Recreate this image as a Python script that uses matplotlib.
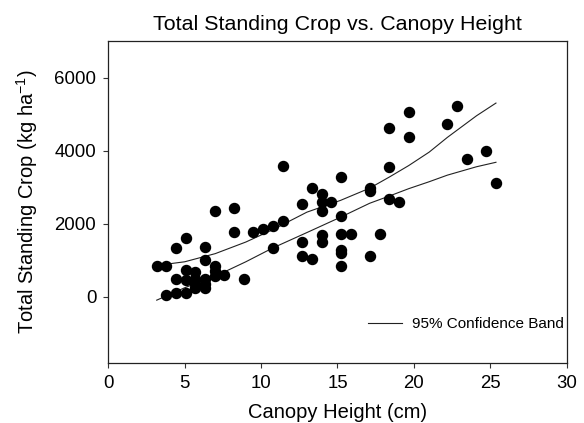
import numpy as np
import matplotlib
matplotlib.use("Agg")
import matplotlib.pyplot as plt

plt.rcParams['font.family'] = ['Liberation Sans', 'DejaVu Sans']
plt.rcParams['mathtext.default'] = 'regular'

# canopy height (cm) and total standing crop (kg/ha)
height = [3.17, 3.80, 3.80, 4.43, 4.43, 4.43, 5.07, 5.07, 5.07, 5.07,
          5.69, 5.69, 5.69, 5.69, 6.33, 6.33, 6.33, 6.33, 6.33, 6.98,
          6.98, 6.98, 6.98, 7.59, 8.25, 8.25, 8.86, 9.49, 10.14, 10.76,
          10.76, 11.41, 11.41, 12.68, 12.68, 12.68, 13.31, 13.31, 13.97, 13.97,
          13.97, 13.97, 13.97, 14.57, 15.23, 15.23, 15.23, 15.23, 15.23, 15.23,
          15.86, 17.13, 17.13, 17.13, 17.78, 18.39, 18.39, 18.39, 19.03, 19.66,
          19.66, 22.19, 22.84, 23.46, 24.72, 25.37]
crop = [856, 845, 65, 1336, 502, 109, 1609, 728, 455, 109,
        682, 502, 365, 245, 1364, 1001, 502, 365, 245, 2337,
        837, 701, 565, 611, 2427, 1764, 483, 1764, 1854, 1928,
        1336, 2064, 3572, 2547, 1500, 1118, 2972, 1028, 2801, 2591,
        2356, 1702, 1500, 2591, 3272, 2209, 1710, 1293, 1200, 837,
        1710, 2972, 2891, 1118, 1710, 4609, 3545, 2664, 2591, 5045,
        4363, 4729, 5228, 3774, 3981, 3120]

# 95% confidence band
band_x = [3.17, 5.0, 7.0, 9.0, 10.76, 13.0, 15.2, 17.1, 18.4, 19.66, 21.0, 22.19, 24.1, 25.37]
upper = [860, 960, 1183, 1500, 1838, 2318, 2640, 2973, 3280, 3592, 3960, 4363, 4955, 5302]
lower = [-90, 250, 565, 960, 1337, 1760, 2180, 2560, 2760, 2960, 3150, 3330, 3560, 3682]

fig = plt.figure(figsize=(5.84, 4.23), dpi=100)
ax = fig.add_axes([0.1854, 0.1426, 0.7850, 0.7605])

ax.scatter(height, crop, s=52, color='black', zorder=3)
ax.plot(band_x, upper, color='#222222', lw=0.8, label='95% Confidence Band')
ax.plot(band_x, lower, color='#222222', lw=0.8)

ax.set_xlim(0, 30)
ax.set_ylim(-1800, 7000)
ax.set_xticks([0, 5, 10, 15, 20, 25, 30])
ax.set_yticks([0, 2000, 4000, 6000])
ax.tick_params(direction='out', length=3.6, width=0.8, labelsize=13.4, pad=5,
               top=False, right=False, color='#333333')
for sp in ax.spines.values():
    sp.set_color('#222222')
    sp.set_linewidth(0.9)

ax.set_xlabel('Canopy Height (cm)', fontsize=14.5, labelpad=8)
ax.set_ylabel('Total Standing Crop (kg ha$^{-1}$)', fontsize=14.5, labelpad=10)
ax.set_title('Total Standing Crop vs. Canopy Height', fontsize=15.4, pad=8)

ax.legend(loc='lower right', frameon=False, fontsize=11, handlelength=2.2,
          bbox_to_anchor=(1.0, 0.089), borderpad=0, borderaxespad=0.2,
          handletextpad=0.65)

fig.savefig('out.png', dpi=100)
